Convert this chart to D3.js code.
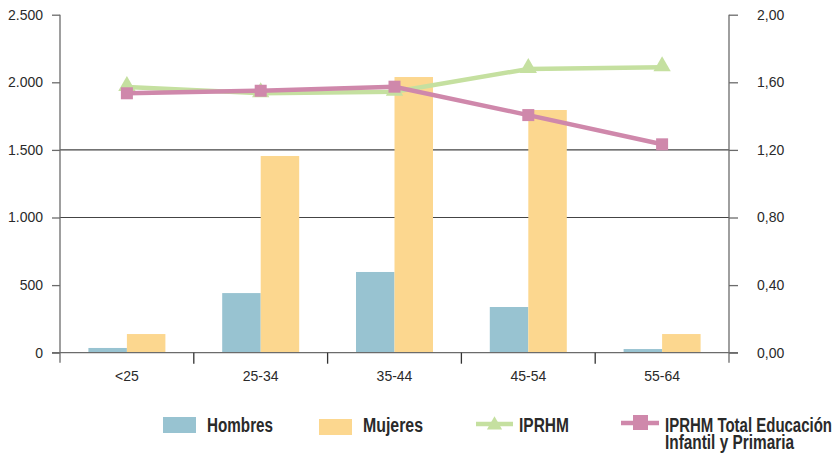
<!DOCTYPE html>
<html><head><meta charset="utf-8">
<script src="https://cdn.jsdelivr.net/npm/d3@7"></script>
<style>body{margin:0;background:#fff}svg{display:block}</style>
</head><body>
<svg id="c" width="838" height="454"></svg>
<script>
const categories = ["<25","25-34","35-44","45-54","55-64"];
const hombres = [35, 441, 597, 338, 27];
const mujeres = [138, 1455, 2039, 1795, 138];
const iprhm = [1.572, 1.535, 1.544, 1.679, 1.689];
const iprhmTotal = [1.535, 1.55, 1.574, 1.406, 1.233];
const leftTicks = [0, 500, 1000, 1500, 2000, 2500];
const rightTicks = [0, 0.4, 0.8, 1.2, 1.6, 2.0];
const gridValues = [1000, 1500];
const legendLabels = ["Hombres", "Mujeres", "IPRHM", "IPRHM Total Educación", "Infantil y Primaria"];

const svg = d3.select("#c");
const L = 60, R = 729, T = 14.7, B = 352.7;
const x = d3.scaleBand().domain(categories).range([L, R]);
const y = d3.scaleLinear().domain([0, 2500]).range([B, T]);
const y2 = d3.scaleLinear().domain([0, 2]).range([B, T]);
const font = "Arial, 'Liberation Sans', sans-serif";
const axisCol = "#6b6b6b";

// gridlines
svg.append("g").selectAll("line").data(gridValues).join("line")
  .attr("x1", L).attr("x2", R).attr("y1", d => y(d)).attr("y2", d => y(d))
  .attr("stroke", "#444").attr("stroke-width", 1.2);

// bars
const bw = 38.5;
svg.append("g").selectAll("rect").data(hombres).join("rect")
  .attr("x", (d,i) => x(categories[i]) + x.bandwidth()/2 - bw)
  .attr("width", bw).attr("y", d => y(d)).attr("height", d => B - y(d))
  .attr("fill", "#98c3d1");
svg.append("g").selectAll("rect").data(mujeres).join("rect")
  .attr("x", (d,i) => x(categories[i]) + x.bandwidth()/2)
  .attr("width", bw).attr("y", d => y(d)).attr("height", d => B - y(d))
  .attr("fill", "#fcd78f");

// axes
const la = svg.append("g").attr("transform", `translate(${L},0)`)
  .call(d3.axisLeft(y).tickValues(leftTicks).tickSize(8).tickPadding(9)
    .tickFormat(d => d3.format(",")(d).replace(/,/g, ".")));
const ra = svg.append("g").attr("transform", `translate(${R},0)`)
  .call(d3.axisRight(y2).tickValues(rightTicks).tickSize(9).tickPadding(19)
    .tickFormat(d => d3.format(".2f")(d).replace(".", ",")));
const ba = svg.append("g").attr("transform", `translate(0,${B})`)
  .call(d3.axisBottom(x).tickSize(0).tickPadding(18));
[la, ra, ba].forEach(g => {
  g.select(".domain").remove();
  g.selectAll("line").attr("stroke", axisCol).attr("stroke-width", 1.3);
  g.selectAll("text").attr("font-family", font).attr("font-size", 14).attr("fill", "#2a2a2a");
});
// axis lines
svg.append("line").attr("x1", L).attr("x2", L).attr("y1", T).attr("y2", B + 10).attr("stroke", axisCol).attr("stroke-width", 1.3);
svg.append("line").attr("x1", R).attr("x2", R).attr("y1", T).attr("y2", B + 10).attr("stroke", axisCol).attr("stroke-width", 1.3);
svg.append("line").attr("x1", L - 8).attr("x2", R + 9).attr("y1", B).attr("y2", B).attr("stroke", axisCol).attr("stroke-width", 1.3);
// category separators
svg.append("g").selectAll("line").data(categories.slice(1)).join("line")
  .attr("x1", d => x(d)).attr("x2", d => x(d)).attr("y1", B).attr("y2", B + 11)
  .attr("stroke", "#333").attr("stroke-width", 1.3);

// lines
const cx = i => x(categories[i]) + x.bandwidth()/2;
const green = "#c5e0a0", pink = "#cf88ab";
const lineG = d3.line().x((d,i) => cx(i)).y(d => y2(d));
svg.append("path").attr("d", lineG(iprhm)).attr("fill", "none").attr("stroke", green).attr("stroke-width", 4.5);
const tri = d3.symbol().type(d3.symbolTriangle).size(130);
svg.append("g").selectAll("path").data(iprhm).join("path")
  .attr("d", tri).attr("transform", (d,i) => `translate(${cx(i)},${y2(d) - 1})`).attr("fill", green);
svg.append("path").attr("d", lineG(iprhmTotal)).attr("fill", "none").attr("stroke", pink).attr("stroke-width", 4.5);
svg.append("g").selectAll("rect").data(iprhmTotal).join("rect")
  .attr("x", (d,i) => cx(i) - 6).attr("y", d => y2(d) - 6).attr("width", 12).attr("height", 12).attr("fill", pink);

// legend
const lg = svg.append("g").attr("font-family", font).attr("font-weight", "bold").attr("font-size", 20).attr("fill", "#2a2a2a");
const lt = (txt, xx, yy, w) => lg.append("text").attr("x", xx).attr("y", yy)
  .attr("textLength", w).attr("lengthAdjust", "spacingAndGlyphs").text(txt);
lg.append("rect").attr("x", 163).attr("y", 417).attr("width", 33).attr("height", 16).attr("fill", "#98c3d1");
lt(legendLabels[0], 207, 432, 66);
lg.append("rect").attr("x", 319).attr("y", 419).attr("width", 33).attr("height", 16).attr("fill", "#fcd78f");
lt(legendLabels[1], 363, 432, 60);
lg.append("line").attr("x1", 476).attr("x2", 513).attr("y1", 424).attr("y2", 424).attr("stroke", green).attr("stroke-width", 4.5);
lg.append("path").attr("d", d3.symbol().type(d3.symbolTriangle).size(100)).attr("transform", "translate(494.5,425)").attr("fill", green);
lt(legendLabels[2], 519, 432, 50);
lg.append("line").attr("x1", 621).attr("x2", 659).attr("y1", 423).attr("y2", 423).attr("stroke", pink).attr("stroke-width", 4.5);
lg.append("rect").attr("x", 633).attr("y", 415).attr("width", 15).attr("height", 15).attr("fill", pink);
lt(legendLabels[3], 665, 432, 167);
lt(legendLabels[4], 665, 448.5, 129);
</script>
</body></html>
